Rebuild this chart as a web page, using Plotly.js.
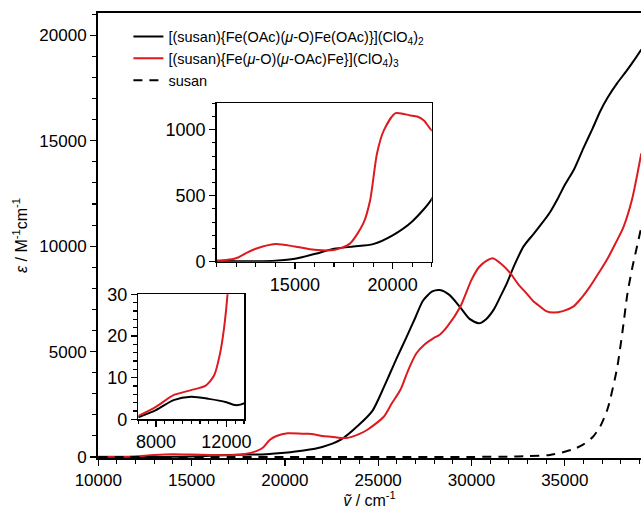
<!DOCTYPE html>
<html><head><meta charset="utf-8">
<script src="https://cdn.plot.ly/plotly-3.0.1.min.js"></script>
<style>html,body{margin:0;padding:0;background:#fff}</style>
</head><body><div id="chart" style="width:641px;height:509px"></div>
<script>
// wavenumbers (cm-1) and molar absorptivity (M-1 cm-1)
const blackX = [7000, 8000, 9000, 10000, 11000, 12000, 12500, 13000, 14000, 15000, 16000, 17000, 18000, 19000, 20000, 21000, 22000, 23000, 24000, 24700, 25300, 25600, 26000, 26500, 27000, 27400, 27900, 28300, 28800, 29400, 29900, 30400, 30800, 31200, 31600, 31900, 32300, 32800, 33300, 33700, 34200, 34650, 35000, 35500, 36000, 36500, 36900, 37300, 37800, 38300, 38700, 39100];
const blackY = [0.5, 2.2, 4.6, 5.4, 4.9, 4.1, 3.4, 3.8, 8, 22, 58, 98, 115, 133, 200, 305, 475, 820, 1550, 2200, 3300, 3900, 4700, 5650, 6630, 7410, 7850, 7920, 7700, 7100, 6550, 6340, 6550, 7000, 7700, 8250, 9100, 10000, 10550, 11000, 11600, 12300, 12900, 13650, 14650, 15600, 16400, 17050, 17720, 18300, 18800, 19330];

const redX = [7000, 8000, 9000, 10000, 10800, 11300, 11650, 11900, 12100, 12500, 13000, 14000, 15000, 16000, 17000, 17800, 18500, 18850, 19200, 19550, 20150, 20900, 21250, 21600, 22000, 22500, 23300, 24000, 24400, 25300, 25700, 26200, 26600, 27050, 27500, 27950, 28300, 28700, 29400, 30000, 30400, 30800, 31170, 31600, 32100, 32500, 32950, 33300, 33700, 34000, 34400, 34900, 35450, 35900, 36350, 36800, 37250, 37700, 38150, 38600, 39100];
const redY = [0.8, 3.0, 5.8, 7.0, 8.0, 10.5, 16, 23, 32, 65, 98, 134, 115, 90, 88, 135, 290, 466, 820, 995, 1125, 1108, 1100, 1070, 995, 960, 900, 1100, 1280, 1910, 2500, 3200, 4100, 4920, 5350, 5630, 5800, 6180, 7128, 8400, 9000, 9300, 9420, 9150, 8700, 8200, 7760, 7400, 7120, 6920, 6850, 6920, 7130, 7550, 8080, 8700, 9340, 10100, 10920, 12200, 14400];

const susanX = [10000, 20000, 30000, 32000, 33000, 34200, 35000, 35500, 36000, 36500, 36900, 37300, 37800, 38100, 38350, 38600, 38850, 39100];
const susanY = [0, 0, 5, 15, 40, 95, 250, 380, 600, 950, 1450, 2300, 4200, 6000, 7700, 8900, 9900, 10900];

const names = [
  '[(susan){Fe(OAc)(<i>μ</i>-O)Fe(OAc)}](ClO<sub>4</sub>)<sub>2</sub>',
  '[(susan){Fe(<i>μ</i>-O)(<i>μ</i>-OAc)Fe}](ClO<sub>4</sub>)<sub>3</sub>',
  'susan'
];

const RED = '#dd1a1f';
const SM = 0.7;
const traces = [];
// main
traces.push({x: blackX, y: blackY, type: 'scatter', mode: 'lines', name: names[0], line: {color: '#000', width: 2, shape: 'spline', smoothing: SM}, xaxis: 'x', yaxis: 'y'});
traces.push({x: redX, y: redY, type: 'scatter', mode: 'lines', name: names[1], line: {color: RED, width: 2, shape: 'spline', smoothing: SM}, xaxis: 'x', yaxis: 'y'});
traces.push({x: susanX, y: susanY, type: 'scatter', mode: 'lines', name: names[2], line: {color: '#000', width: 2, dash: '9px,7px', shape: 'spline', smoothing: SM}, xaxis: 'x', yaxis: 'y'});
// insets
['2', '3'].forEach(k => {
  traces.push({x: blackX, y: blackY, type: 'scatter', mode: 'lines', showlegend: false, line: {color: '#000', width: 2, shape: 'spline', smoothing: SM}, xaxis: 'x' + k, yaxis: 'y' + k});
  traces.push({x: redX, y: redY, type: 'scatter', mode: 'lines', showlegend: false, line: {color: RED, width: 2, shape: 'spline', smoothing: SM}, xaxis: 'x' + k, yaxis: 'y' + k});
});

const ax = (o) => Object.assign({
  showline: true, linecolor: '#000', linewidth: 1.5, ticks: 'outside', tickcolor: '#000',
  ticklen: 6, tickwidth: 1.3, showgrid: false, zeroline: false, tickformat: 'd',
  minor: {ticks: 'outside', ticklen: 3.5, tickwidth: 1.1, tickcolor: '#000'}
}, o);

const layout = {
  width: 641, height: 509,
  margin: {l: 98, r: 0, t: 13, b: 51},
  paper_bgcolor: '#fff', plot_bgcolor: 'rgba(0,0,0,0)',
  font: {family: 'Liberation Sans, Arial, sans-serif', size: 17, color: '#000'},
  showlegend: true,
  legend: {x: 0.056, y: 0.983, xanchor: 'left', yanchor: 'top', bgcolor: 'rgba(0,0,0,0)',
           font: {size: 14.5}, itemwidth: 30, tracegroupgap: 0},
  xaxis: ax({domain: [0, 1], range: [9985, 39085], anchor: 'y', mirror: true, linewidth: 2,
             dtick: 5000, tick0: 0, minor: {dtick: 1000, ticks: 'outside', ticklen: 4, tickwidth: 1.1, tickcolor: '#000'},
             title: {text: '<i>ṽ</i> / cm<sup>-1</sup>', font: {size: 16}, standoff: 4}}),
  yaxis: ax({domain: [0, 1], range: [-47, 21058], anchor: 'x', linewidth: 2,
             dtick: 5000, tick0: 0, minor: {dtick: 1000, ticks: 'outside', ticklen: 4, tickwidth: 1.1, tickcolor: '#000'},
             title: {text: '<i>ε</i> / M<sup>-1</sup>cm<sup>-1</sup>', font: {size: 16}, standoff: 8}}),
  xaxis2: ax({domain: [0.2186, 0.6146], range: [11000, 22000], anchor: 'y2', mirror: true, tickfont: {size: 18},
              dtick: 5000, tick0: 0, minor: {dtick: 1000, ticks: 'outside', ticklen: 3.5, tickwidth: 1.1, tickcolor: '#000'}}),
  yaxis2: ax({domain: [0.4411, 0.7971], range: [0, 1200], anchor: 'x2', mirror: true, tickfont: {size: 18},
              dtick: 500, tick0: 0, minor: {dtick: 100, ticks: 'outside', ticklen: 3.5, tickwidth: 1.1, tickcolor: '#000'}}),
  xaxis3: ax({domain: [0.0742, 0.2689], range: [7000, 13000], anchor: 'y3', mirror: true, tickfont: {size: 18},
              dtick: 4000, tick0: 8000, minor: {dtick: 500, ticks: 'outside', ticklen: 3.5, tickwidth: 1.1, tickcolor: '#000'}}),
  yaxis3: ax({domain: [0.0870, 0.3679], range: [0, 30], anchor: 'x3', mirror: true, tickfont: {size: 18},
              dtick: 10, tick0: 0, minor: {dtick: 2, ticks: 'outside', ticklen: 3.5, tickwidth: 1.1, tickcolor: '#000'}})
};

Plotly.newPlot('chart', traces, layout, {displayModeBar: false, staticPlot: true});
</script></body></html>
